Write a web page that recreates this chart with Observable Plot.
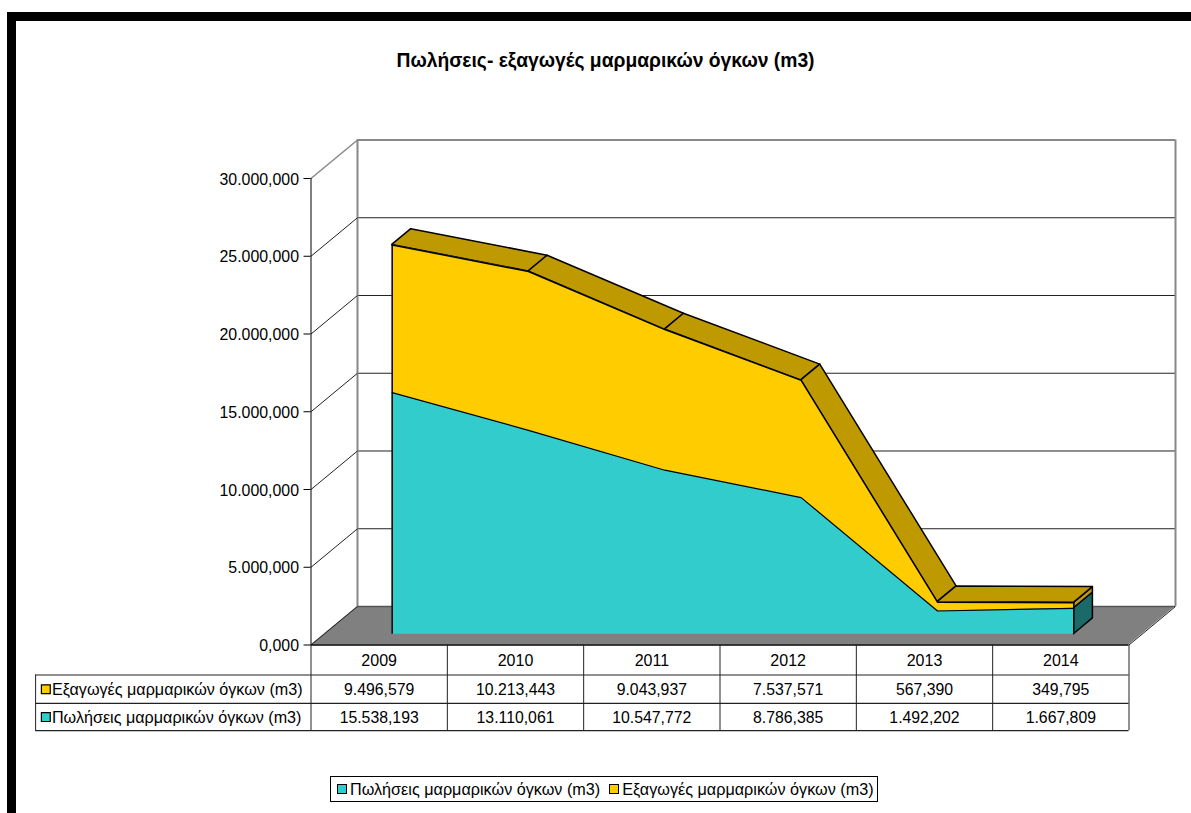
<!DOCTYPE html>
<html lang="el">
<head>
<meta charset="utf-8">
<title>Πωλήσεις- εξαγωγές μαρμαρικών όγκων (m3)</title>
<script src="https://cdn.jsdelivr.net/npm/d3@7"></script>
<script src="https://cdn.jsdelivr.net/npm/@observablehq/plot@0.6"></script>
<style>
  html, body { margin: 0; padding: 0; background: #fff; overflow: hidden; }
  #page { position: relative; width: 1191px; height: 813px; overflow: hidden; font-family: "Liberation Sans", Arial, sans-serif; color: #000; }
  #frame { position: absolute; left: 7px; top: 12px; right: 0; bottom: 0; border-left: 9px solid #000; border-top: 9px solid #000; box-sizing: border-box; pointer-events: none; }
  #title { height: 100px; box-sizing: border-box; padding-top: 50px; padding-left: 211px; text-align: center; font-weight: bold; font-size: 19.3px; line-height: 22px; width: 1000px; white-space: nowrap; }
  #chart svg { display: block; }
  #legend { position: absolute; left: 330px; top: 776px; width: 548px; height: 26px; box-sizing: border-box; border: 1px solid #000; display: flex; align-items: center; font-size: 16.2px; white-space: nowrap; }
  #legend i { display: inline-block; box-sizing: border-box; width: 10px; height: 10px; border: 1.2px solid #000; margin: 0 3px 0 6px; }
  #legend i + span + i { margin-left: 9px; }
</style>
</head>
<body>
<div id="page">
  <div id="frame"></div>
  <div id="title">Πωλήσεις- εξαγωγές μαρμαρικών όγκων (m3)</div>
  <div id="chart"></div>
  <div id="legend"></div>
</div>
<script>
const years = [2009, 2010, 2011, 2012, 2013, 2014];
const exportsSeries = [9496.579, 10213.443, 9043.937, 7537.571, 567.390, 349.795];
const salesSeries = [15538.193, 13110.061, 10547.772, 8786.385, 1492.202, 1667.809];
const exportsName = "Εξαγωγές μαρμαρικών όγκων (m3)";
const salesName = "Πωλήσεις μαρμαρικών όγκων (m3)";
const yTicks = [0, 5000, 10000, 15000, 20000, 25000, 30000];

const colSales = "#33CCCC", colSalesDark = "#1A6A6A";
const colExports = "#FFCC00", colExportsDark = "#BF9900";
const floorGray = "#808080", wallGray = "#888888";

// oblique depth of the fake 3D box, in scale units
const depthX = 0.341, depthY = 2476;
const near = 0.28, far = 0.69;      // depth fractions of the area's front and back faces

// table lines below the zero line, in scale units
const tableLines = [-1930, -3760, -5510];
const tableRows = [-965, -2845, -4635];

const fmt = d3.formatLocale({decimal: ",", thousands: ".", grouping: [3], currency: ["", ""]}).format(",.3f");

const pts = years.map((year, k) => ({
  year, k, xc: k + 0.5, e: exportsSeries[k], s: salesSeries[k], t: exportsSeries[k] + salesSeries[k]
}));
const atX = (d, f) => d.xc + f * depthX;
const atY = (v, f) => v + f * depthY;

// top ribbon quads for the total
const ribbons = d3.pairs(pts).flatMap(([a, b], n) => [
  {seg: n, x1: atX(a, near), y1: atY(a.t, near), x2: atX(a, far), y2: atY(a.t, far)},
  {seg: n, x1: atX(b, near), y1: atY(b.t, near), x2: atX(b, far), y2: atY(b.t, far)}
]);
const last = pts[pts.length - 1], first = pts[0];

const sideFace = (v0, v1, fill) => Plot.area(
  [
    {x1: atX(last, near), y1: atY(v1, near), x2: atX(last, near), y2: atY(v0, near)},
    {x1: atX(last, far), y1: atY(v1, far), x2: atX(last, far), y2: atY(v0, far)}
  ],
  {x1: "x1", y1: "y1", x2: "x2", y2: "y2", fill, stroke: "#000", strokeWidth: 1.5}
);

const plot = Plot.plot({
  width: 1191,
  height: 670,
  marginLeft: 310.5,
  marginRight: 62.5,
  marginTop: 78,
  marginBottom: 125.5,
  style: {fontFamily: "'Liberation Sans', Arial, sans-serif", background: "transparent", color: "#000"},
  x: {domain: [0, 6], axis: null},
  y: {domain: [0, 30000], axis: null},
  marks: [
    // floor
    Plot.area(
      [
        {x1: 0, y1: 0, x2: depthX, y2: depthY},
        {x1: 6, y1: 0, x2: 6 + depthX, y2: depthY}
      ],
      {x1: "x1", y1: "y1", x2: "x2", y2: "y2", fill: floorGray}
    ),
    // back wall grid
    Plot.ruleY(yTicks.slice(1, -1), {x1: depthX, x2: 6 + depthX, y: d => d + depthY, stroke: "#222", strokeWidth: 1}),
    Plot.ruleY([30000], {x1: depthX, x2: 6 + depthX, y: d => d + depthY, stroke: wallGray, strokeWidth: 2}),
    Plot.ruleY([0], {x1: depthX, x2: 6 + depthX, y: d => d + depthY, stroke: "#555", strokeWidth: 1.5}),
    Plot.ruleX([depthX, 6 + depthX], {x: d => d, y1: depthY, y2: 30000 + depthY, stroke: wallGray, strokeWidth: 2}),
    // left wall diagonals
    Plot.link(yTicks.slice(1, -1), {x1: 0, y1: d => d, x2: depthX, y2: d => d + depthY, stroke: "#222", strokeWidth: 1}),
    Plot.link([30000], {x1: 0, y1: d => d, x2: depthX, y2: d => d + depthY, stroke: wallGray, strokeWidth: 1.5}),
    Plot.link([0, 6], {x1: d => d, y1: 0, x2: d => d + depthX, y2: depthY, stroke: "#222", strokeWidth: 1}),
    // end faces
    sideFace(0, last.s, colSalesDark),
    sideFace(last.s, last.t, colExportsDark),
    // ribbon on top of the total
    Plot.area(ribbons, {x1: "x1", y1: "y1", x2: "x2", y2: "y2", z: "seg", fill: colExportsDark, stroke: "#000", strokeWidth: 1.5, strokeLinejoin: "round"}),
    // front faces
    Plot.areaY(pts, {x: d => atX(d, near), y1: d => atY(0, near), y2: d => atY(d.s, near), fill: colSales}),
    Plot.areaY(pts, {x: d => atX(d, near), y1: d => atY(d.s, near), y2: d => atY(d.t, near), fill: colExports}),
    Plot.lineY(pts, {x: d => atX(d, near), y: d => atY(d.s, near), stroke: "#000", strokeWidth: 1.2}),
    Plot.lineY(pts, {x: d => atX(d, near), y: d => atY(d.t, near), stroke: "#000", strokeWidth: 1.5}),
    Plot.ruleX([first, last], {x: d => atX(d, near), y1: atY(0, near), y2: d => atY(d.t, near), stroke: "#000", strokeWidth: 1.5}),
    // value axis
    Plot.ruleX([0], {y1: 0, y2: 30000, stroke: "#000", strokeWidth: 1}),
    Plot.ruleY([0], {x1: 0, x2: 6, stroke: "#000", strokeWidth: 1.5}),
    Plot.axisY({ticks: yTicks, text: null, tickSize: 7, label: null, stroke: "#000"}),
    Plot.text(yTicks, {x: 0, y: d => d, text: d => fmt(d), textAnchor: "end", dx: -12, dy: 1, fontSize: 15.9, fill: "#000"}),
    // data table
    Plot.ruleY(tableLines, {x1: -2.02, x2: 6, stroke: "#222", strokeWidth: 1.2}),
    Plot.ruleX(d3.range(0, 7), {x: d => d, y1: 0, y2: tableLines[2], stroke: "#222", strokeWidth: 1}),
    Plot.ruleX([-2.02], {x: d => d, y1: tableLines[0], y2: tableLines[2], stroke: "#222", strokeWidth: 1}),
    Plot.text(pts, {x: "xc", y: tableRows[0], dy: 1, text: d => String(d.year), fontSize: 16, fill: "#000"}),
    Plot.text(pts, {x: "xc", y: tableRows[1], dy: 1, text: d => fmt(d.e), fontSize: 15.8, fill: "#000"}),
    Plot.text(pts, {x: "xc", y: tableRows[2], dy: 1, text: d => fmt(d.s), fontSize: 15.8, fill: "#000"}),
    Plot.dot([{y: tableRows[1], c: colExports}, {y: tableRows[2], c: colSales}], {x: -1.945, y: "y", symbol: "square", r: 5, fill: "c", stroke: "#000", strokeWidth: 1.2}),
    Plot.text([{y: tableRows[1], t: exportsName}, {y: tableRows[2], t: salesName}], {x: -1.9, y: "y", dy: 1, text: "t", textAnchor: "start", fontSize: 16.15, fill: "#000"})
  ]
});
document.getElementById("chart").append(plot);

const legend = document.getElementById("legend");
[[salesName, colSales], [exportsName, colExports]].forEach(([name, c]) => {
  const sw = document.createElement("i");
  sw.style.background = c;
  const label = document.createElement("span");
  label.textContent = name;
  legend.append(sw, label);
});
</script>
</body>
</html>
